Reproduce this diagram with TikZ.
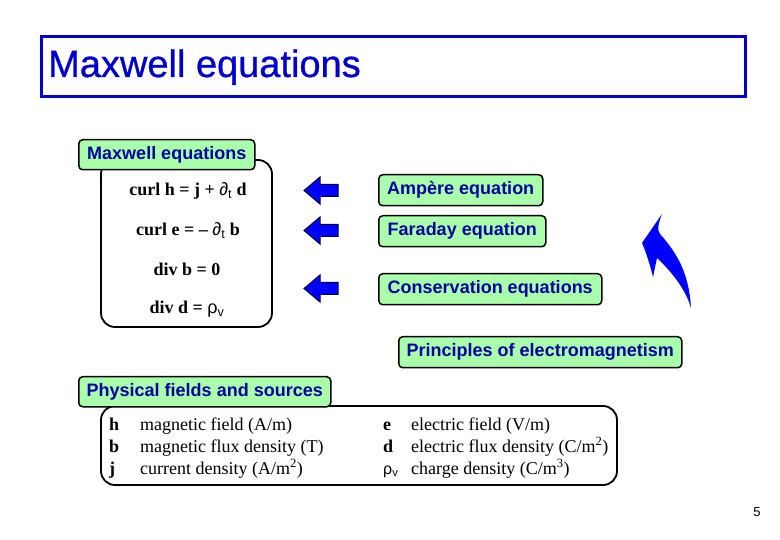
\documentclass[tikz,border=0pt]{standalone}
\usepackage{fontspec}
\setmainfont{Liberation Serif}
\setsansfont{Liberation Sans}
\newfontface\ttlfont{Liberation Sans}[FakeBold=0.8]
\begin{document}
\begin{tikzpicture}[x=1pt,y=-1pt,
  lbl/.style={draw=black, line width=1.5pt, rounded corners=4pt, fill=labgreen,
    text=labblue, font=\sffamily\bfseries\fontsize{18}{20}\selectfont, inner sep=0pt, anchor=north west},
  frame/.style={draw=black, line width=1.8pt, rounded corners=14pt},
  eq/.style={font=\bfseries\fontsize{18}{20}\selectfont, anchor=base, inner sep=0pt},
  tb/.style={font=\fontsize{18}{20}\selectfont, anchor=base west, inner sep=0pt},
  barrow/.style={fill=arrblue, draw=arrnavy, line width=1pt, line join=miter}]
\definecolor{labgreen}{RGB}{170,255,170}
\definecolor{labblue}{RGB}{0,0,160}
\definecolor{titleblue}{RGB}{0,0,204}
\definecolor{arrblue}{RGB}{0,0,255}
\definecolor{arrnavy}{RGB}{0,0,60}
\useasboundingbox (0,0) rectangle (780,540);
\fill[white] (0,0) rectangle (780,540);
% title
\node[draw=titleblue, line width=3pt, minimum width=704, minimum height=60, anchor=north west, inner sep=0pt] (titlebox) at (40,35) {};
\node[text=titleblue, font=\ttlfont\fontsize{38}{42}\selectfont, anchor=base west, inner sep=0pt] (title) at (48,77) {Maxwell equations};
% equations frame
\draw[frame] (101,160) rectangle (272,327);
\node[lbl, minimum width=176, minimum height=30] (mx) at (78,139) {Maxwell equations};
\node[eq] (e1) at (188,196) {curl h = j + {\mdseries\sffamily ∂\textsubscript{t}} d};
\node[eq] (e2) at (188,236) {curl e = – {\mdseries\sffamily ∂\textsubscript{t}} b};
\node[eq] (e3) at (187,276) {div b = 0};
\node[eq] (e4) at (187,314) {div d = {\mdseries\sffamily ρ\textsubscript{v}}};
% block arrows
\foreach \n/\cy in {a1/190.5, a2/230.5, a3/288.5}{
  \draw[barrow] (304,\cy) -- (320,\cy-13.5) -- (320,\cy-6) -- (338,\cy-6) -- (338,\cy+6) -- (320,\cy+6) -- (320,\cy+13.5) -- cycle;
}
% labels
\node[lbl, minimum width=164, minimum height=31] (amp) at (378,174) {Ampère equation};
\node[lbl, minimum width=167, minimum height=31] (far) at (378,215) {Faraday equation};
\node[lbl, minimum width=223, minimum height=31] (cons) at (378,273) {Conservation equations};
\node[lbl, minimum width=283, minimum height=31] (prin) at (398,336) {Principles of electromagnetism};
% curved arrow
\fill[arrblue] (662,214) .. controls (658,224) and (657,230) .. (660,234)
  .. controls (676,252) and (689,272) .. (691,308)
  .. controls (686,290) and (672,272) .. (657,258)
  -- (653,277) .. controls (650,265) and (646,252) .. (642,243) -- cycle;
% fields frame
\draw[frame] (101,406) rectangle (617,485);
\node[lbl, minimum width=252, minimum height=30] (phys) at (78,376) {Physical fields and sources};
\node[tb] (h) at (109,430) {\textbf{h}};
\node[tb] (b) at (109,452) {\textbf{b}};
\node[tb] (j) at (109,474) {\textbf{j}};
\node[tb] (hd) at (140,430) {magnetic field (A/m)};
\node[tb] (bd) at (140,452) {magnetic flux density (T)};
\node[tb] (jd) at (140,474) {current density (A/m\textsuperscript{2})};
\node[tb] (e) at (383,430) {\textbf{e}};
\node[tb] (d) at (383,452) {\textbf{d}};
\node[tb] (r) at (383,474) {\sffamily\fontsize{16}{18}\selectfont ρ\textsubscript{v}};
\node[tb] (ed) at (411,430) {electric field (V/m)};
\node[tb] (dd) at (411,452) {electric flux density (C/m\textsuperscript{2})};
\node[tb] (rd) at (411,474) {charge density (C/m\textsuperscript{3})};
% page number
\node[font=\sffamily\fontsize{13}{15}\selectfont, anchor=base, inner sep=0pt] (pg) at (757,516) {5};
\end{tikzpicture}
\end{document}
